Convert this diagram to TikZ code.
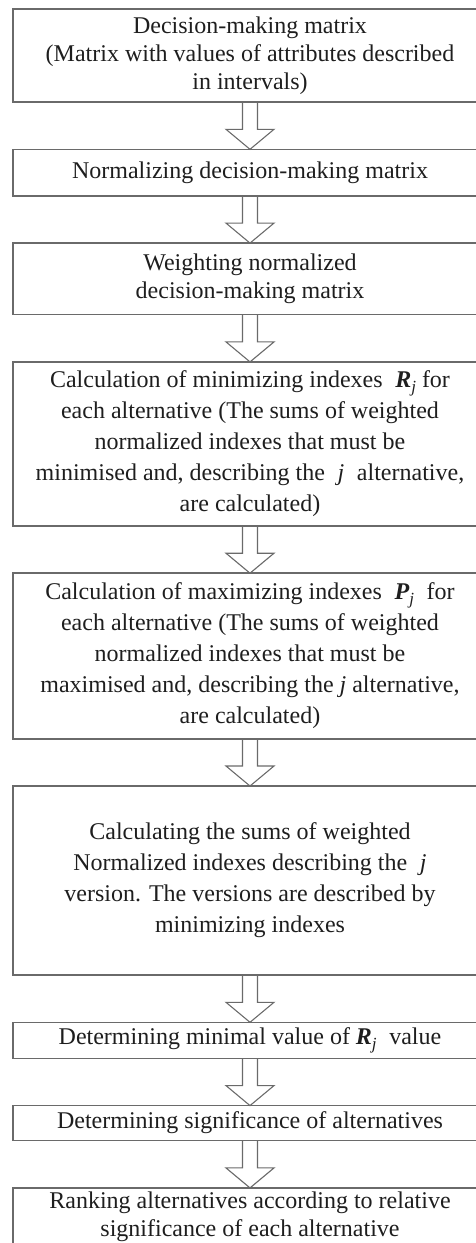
\documentclass[tikz,border=0pt]{standalone}
\usepackage{fontspec}
\setmainfont{Liberation Serif}
\usepackage{xcolor}
\definecolor{cLine}{HTML}{6A6A6A}
\definecolor{cText}{HTML}{1E1E1E}
\usepackage{tikz}
\usetikzlibrary{positioning,calc}
\tikzset{
  step-box/.style={draw=cLine,line width=1.6pt,minimum width=474pt,
    align=center,text=cText,inner sep=0pt,outer sep=0pt,
    font=\fontsize{24}{28}\selectfont},
  step-tall/.style={font=\fontsize{24}{31}\selectfont},
  arrow-hollow/.style={draw=cLine,line width=1.1pt,line join=miter},
}
\newcommand{\Rj}{\textbf{\textit{R}}\raisebox{-0.4ex}{\fontsize{17}{17}\selectfont\textit{j}}}
\newcommand{\Pj}{\textbf{\textit{P}}\raisebox{-0.4ex}{\fontsize{17}{17}\selectfont\textit{j}}}

\begin{document}
\begin{tikzpicture}[node distance=47.3pt]
  \useasboundingbox (0,0) rectangle (476pt,-1243pt);
  \node[step-box,minimum height=93pt] (dm) at (250pt,-55.5pt)
    {Decision-making matrix\\(Matrix with values of attributes described\\in intervals)};
  \node[step-box,minimum height=46.5pt,below=of dm] (norm)
    {Normalizing decision-making matrix};
  \node[step-box,minimum height=71.5pt,below=of norm] (wgt)
    {Weighting normalized\\decision-making matrix};
  \node[step-box,step-tall,minimum height=164pt,below=of wgt] (rmin)
    {Calculation of minimizing indexes \;\Rj{} for\\each alternative (The sums of weighted\\
     normalized indexes that must be\\minimised and, describing the \;\textit{j}\; alternative,\\
     are calculated)};
  \node[step-box,step-tall,minimum height=165.5pt,below=of rmin] (pmax)
    {Calculation of maximizing indexes \;\Pj{} \;for\\each alternative (The sums of weighted\\
     normalized indexes that must be\\maximised and, describing the \textit{j} alternative,\\
     are calculated)};
  \node[step-box,step-tall,minimum height=189pt,below=of pmax] (sums)
    {Calculating the sums of weighted\\Normalized indexes describing the \;\textit{j}\\
     version. The versions are described by\\minimizing indexes};
  \node[step-box,minimum height=36pt,below=of sums] (minr)
    {Determining minimal value of \Rj{} \;value};
  \node[step-box,minimum height=35pt,below=of minr] (sig)
    {Determining significance of alternatives};
  \node[step-box,minimum height=58pt,below=of sig] (rank)
    {Ranking alternatives according to relative\\significance of each alternative};
  % hollow block arrows between the steps
  \foreach \a/\b in {dm/norm,norm/wgt,wgt/rmin,rmin/pmax,pmax/sums,sums/minr,minr/sig,sig/rank}
    \draw[arrow-hollow] ($(\a.south)+(-7.5pt,0)$) -- ($(\b.north)+(-7.5pt,20pt)$)
      -- ++(-16.5pt,0) -- (\b.north) -- ++(24pt,20pt) -- ++(-16.5pt,0)
      -- ($(\a.south)+(7.5pt,0)$);
\end{tikzpicture}
\end{document}
